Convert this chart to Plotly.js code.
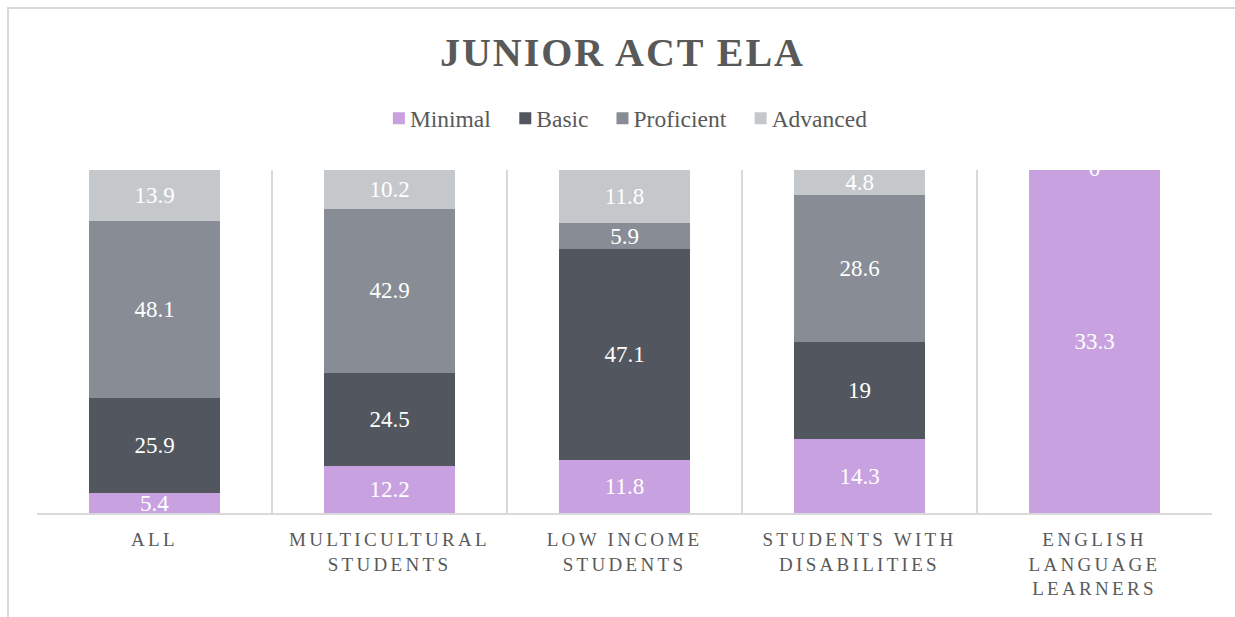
<!DOCTYPE html>
<html>
<head>
<meta charset="utf-8">
<script src="https://cdn.plot.ly/plotly-3.0.1.min.js"></script>
<style>
  html, body { margin: 0; padding: 0; background: #ffffff; }
  #wrap { position: relative; width: 1235px; height: 617px; overflow: hidden; }
  #chart { position: absolute; left: 0; top: 0; width: 1235px; height: 617px; }
  #frame { position: absolute; left: 7px; top: 7px; width: 1240px; height: 640px;
           border-left: 2px solid #d9d9d9; border-top: 2px solid #d9d9d9; pointer-events: none; }
  .xtick text { letter-spacing: 3.3px; }
  .gtitle { letter-spacing: 2px; }
  .legendtext { transform: translateX(-9px); }
</style>
</head>
<body>
<div id="wrap">
  <div id="chart"></div>
  <div id="frame"></div>
</div>
<script>
const categories = ["ALL", "MULTICULTURAL<br>STUDENTS", "LOW INCOME<br>STUDENTS", "STUDENTS WITH<br>DISABILITIES", "ENGLISH<br>LANGUAGE<br>LEARNERS"];
const minimal    = [5.4, 12.2, 11.8, 14.3, 33.3];
const basic      = [25.9, 24.5, 47.1, 19, 0];
const proficient = [48.1, 42.9, 5.9, 28.6, 0];
const advanced   = [13.9, 10.2, 11.8, 4.8, 0];
const seriesNames = ["Minimal", "Basic", "Proficient", "Advanced"];
const seriesColors = ["#c8a2e0", "#52565e", "#888d95", "#c5c8cb"];
const seriesValues = [minimal, basic, proficient, advanced];

const serif = "Liberation Serif, DejaVu Serif, serif";

const traces = seriesValues.map((vals, i) => ({
  type: "bar",
  name: seriesNames[i],
  x: categories,
  y: vals,
  text: vals.map(v => v === 0 ? "" : String(v)),
  texttemplate: "%{text}",
  textposition: "inside",
  insidetextanchor: "middle",
  constraintext: "none",
  textfont: { family: serif, size: 23, color: "#ffffff" },
  marker: { color: seriesColors[i], line: { width: 0 } },
  hoverinfo: "skip"
}));

// zero-valued segments at the top of the last bar get their label drawn at the stack top
const zeroIdx = categories.map((c, j) => j).filter(j => basic[j] === 0 && proficient[j] === 0 && advanced[j] === 0);
traces.push({
  type: "scatter",
  mode: "text",
  x: zeroIdx.map(j => categories[j]),
  y: zeroIdx.map(() => 100),
  text: zeroIdx.map(j => String(advanced[j])),
  textposition: "middle center",
  textfont: { family: serif, size: 23, color: "#ffffff" },
  cliponaxis: true,
  showlegend: false,
  hoverinfo: "skip"
});

const layout = {
  width: 1235,
  height: 617,
  margin: { l: 37, r: 23, t: 170, b: 104 },
  paper_bgcolor: "#ffffff",
  plot_bgcolor: "#ffffff",
  barmode: "stack",
  barnorm: "percent",
  bargap: 0.443,
  title: {
    text: "<b>JUNIOR ACT ELA</b>",
    x: 0.504,
    xanchor: "center",
    y: 0.916,
    yanchor: "middle",
    font: { family: serif, size: 40, color: "#595959" }
  },
  legend: {
    orientation: "h",
    x: 0.505,
    xanchor: "center",
    y: 1.15,
    yanchor: "middle",
    font: { family: serif, size: 23.5, color: "#595959" },
    itemwidth: 30,
    tracegroupgap: 0,
    traceorder: "normal"
  },
  xaxis: {
    type: "category",
    tickson: "boundaries",
    showgrid: true,
    gridcolor: "#d9d9d9",
    gridwidth: 2,
    showline: true,
    linecolor: "#d9d9d9",
    linewidth: 2,
    ticks: "",
    ticklabelstandoff: 8,
    tickfont: { family: serif, size: 19, color: "#595959" },
    zeroline: false,
    fixedrange: true
  },
  yaxis: {
    range: [0, 100],
    visible: false,
    showgrid: false,
    zeroline: false,
    fixedrange: true
  },
  showlegend: true
};

Plotly.newPlot("chart", traces, layout, { displayModeBar: false, staticPlot: true });
</script>
</body>
</html>
